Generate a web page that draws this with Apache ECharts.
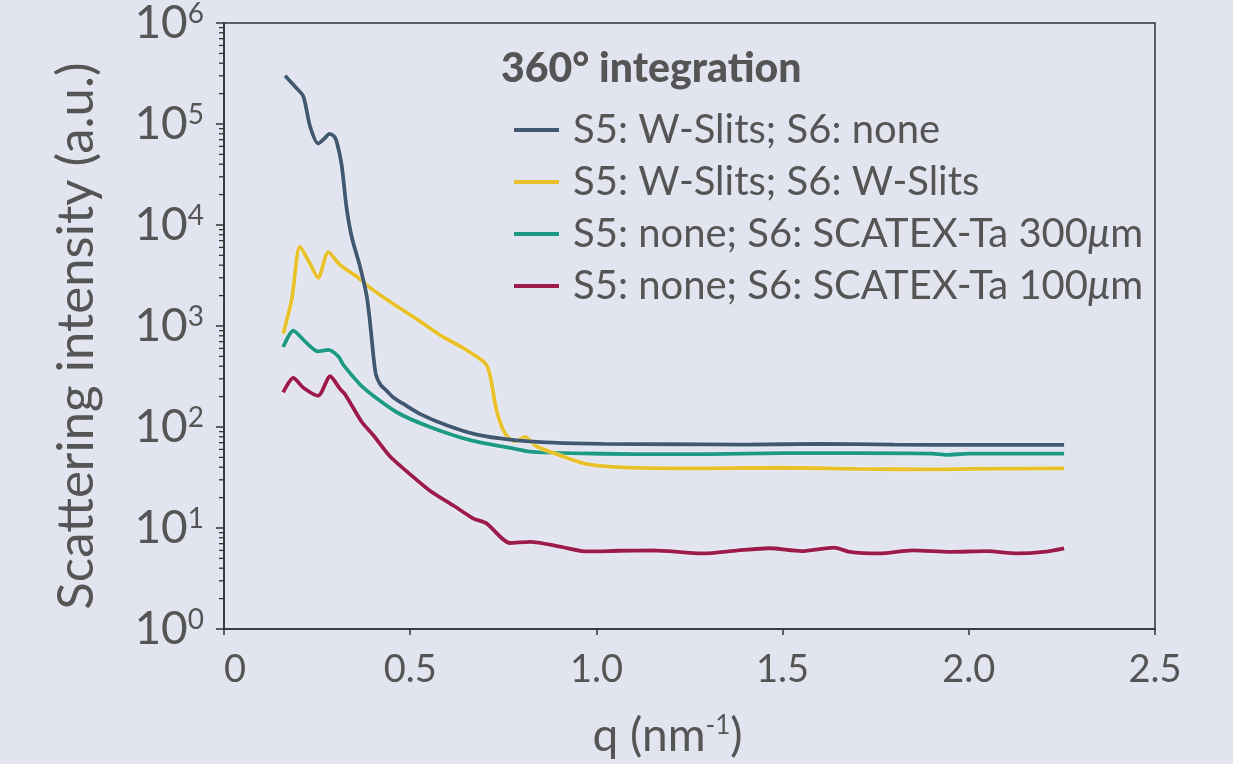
<!DOCTYPE html>
<html>
<head>
<meta charset="utf-8">
<script src="https://cdn.jsdelivr.net/npm/echarts@6/dist/echarts.min.js"></script>
<style>
html,body{margin:0;padding:0;background:#e2e5f0;}
#c{width:1233px;height:764px;}
</style>
</head>
<body>
<div id="c"></div>
<script>
// ---- data (q in nm^-1, intensity in a.u.) ----
const seriesNames = [
  'S5: W-Slits; S6: none',
  'S5: W-Slits; S6: W-Slits',
  'S5: none; S6: SCATEX-Ta 300\u03bcm',
  'S5: none; S6: SCATEX-Ta 100\u03bcm'
];
const qNavy = [0.164,0.19,0.213,0.231,0.253,0.27,0.283,0.295,0.303,0.316,0.329,0.343,0.365,0.383,0.392,0.401,0.408,0.42,0.437,0.455,0.481,0.526,0.598,0.679,0.768,0.884,1.019,1.2,1.4,1.6,1.8,2.0,2.256];
const iNavy = [300000,236000,188000,95000,64000,72000,80000,76000,66000,39000,14900,7600,3900,2000,1100,513,330,263,228,196,170,135,104,84,75,70,68,67.5,67,68,67,66.5,66.5];

const qYellow = [0.159,0.182,0.204,0.23,0.253,0.28,0.311,0.356,0.392,0.455,0.517,0.58,0.643,0.701,0.714,0.732,0.755,0.781,0.795,0.808,0.825,0.84,0.911,0.974,1.108,1.3,1.5,1.7,1.9,2.0,2.256];
const iYellow = [840,1840,6100,4200,3000,5400,4040,3100,2390,1650,1175,813,603,430,330,146,86,72,76,80,72,64,51,43,39.4,39,39.5,38.5,38,38.5,39];

const qTeal = [0.159,0.186,0.218,0.253,0.28,0.307,0.32,0.374,0.464,0.553,0.661,0.768,0.822,0.929,1.1,1.3,1.5,1.7,1.9,1.94,2.0,2.256];
const iTeal = [620,900,700,560,580,500,414,245,140,100,74,62,57,55,54,54,55,55,54.5,53,54.5,54.5];

const qCrimson = [0.159,0.186,0.213,0.253,0.285,0.311,0.325,0.37,0.401,0.446,0.5,0.553,0.616,0.67,0.705,0.768,0.822,0.902,0.974,1.063,1.15,1.286,1.38,1.465,1.55,1.638,1.68,1.76,1.85,1.95,2.05,2.13,2.2,2.256];
const iCrimson = [220,307,245,204,318,240,211,112,83,51,34,23.4,16.7,12.4,11.1,7.1,7.3,6.55,5.86,5.95,6.0,5.6,6.0,6.3,5.9,6.4,5.8,5.6,6.0,5.8,5.9,5.6,5.8,6.3];

const xTicks = [0,0.5,1.0,1.5,2.0,2.5];
const yMinorTicks = [];
for (let e = 0; e < 6; e++) for (let m = 2; m <= 9; m++) yMinorTicks.push(m * Math.pow(10, e));

const colors = ['#405872','#e8c12b','#1d9a83','#9d1b4b'];
const font = 'Lato';
const textColor = '#555555';

function zip(a, b){ return a.map((v,i)=>[v,b[i]]); }
const datasets = [zip(qNavy,iNavy), zip(qYellow,iYellow), zip(qTeal,iTeal), zip(qCrimson,iCrimson)];

const chart = echarts.init(document.getElementById('c'), null, {renderer:'canvas'});
const lineSeries = datasets.map((d,i)=>({
  name: seriesNames[i],
  type: 'line',
  data: d,
  symbol: 'none',
  smooth: 0.25,
  z: 10 - i,
  lineStyle: {color: colors[i], width: 3.8, shadowColor: 'rgba(255,255,255,0.7)', shadowBlur: 2},
  itemStyle: {color: colors[i]}
}));

const minorTickSeries = {
  type: 'custom',
  silent: true,
  clip: false,
  data: yMinorTicks.map(v=>[0,v]),
  renderItem: function(params, api){
    const p = api.coord([0, api.value(1)]);
    return {type:'line', shape:{x1:p[0]-5, y1:p[1], x2:p[0], y2:p[1]}, style:{stroke:'#333', lineWidth:1.3}};
  },
  z: 20
};

chart.setOption({
  backgroundColor: '#e2e5f0',
  animation: false,
  title: {
    text: '360\u00b0 integration',
    left: 496, top: 43,
    textStyle: {fontFamily: font, fontWeight: 900, fontSize: 41, color: textColor}
  },
  legend: {
    orient: 'vertical',
    left: 509, top: 105,
    icon: 'rect',
    itemWidth: 45, itemHeight: 4,
    itemGap: 12,
    data: seriesNames,
    formatter: name => name.replace('\u03bcm', '{i|\u03bc}m'),
    textStyle: {fontFamily: font, fontSize: 40, color: textColor, padding: [0,0,0,9], lineHeight: 40,
      rich: {i: {fontFamily: font, fontSize: 40, fontStyle: 'italic', color: textColor, lineHeight: 40}}}
  },
  grid: {left: 224, right: 78, top: 22, bottom: 125, show: true, borderColor: '#333', borderWidth: 1.5, backgroundColor: 'transparent'},
  xAxis: {
    type: 'value', min: 0, max: 2.5, interval: 0.5,
    name: '{a|q (nm}{s|-1}{a|)}',
    nameLocation: 'middle', nameGap: 84,
    nameTextStyle: {padding: [0,44,0,0], rich: {
      a: {fontFamily: font, fontSize: 46, color: textColor, lineHeight: 46},
      s: {fontFamily: font, fontSize: 26, color: textColor, verticalAlign: 'top', lineHeight: 26}
    }},
    axisLine: {lineStyle: {color: '#333', width: 1.5}},
    axisTick: {show: true, length: 6, lineStyle: {color: '#333', width: 1.5}},
    axisLabel: {
      fontFamily: font, fontSize: 38, color: textColor, margin: 22,
      alignMinLabel: 'left',
      formatter: v => v === 0 ? '0' : v.toFixed(1)
    },
    splitLine: {show: false}
  },
  yAxis: {
    type: 'log', logBase: 10, min: 1, max: 1e6,
    name: 'Scattering intensity (a.u.)',
    nameLocation: 'middle', nameGap: 122, nameRotate: 90,
    nameTextStyle: {fontFamily: font, fontSize: 51, color: textColor, padding: [0,20,0,0]},
    axisLine: {lineStyle: {color: '#333', width: 1.5}},
    axisTick: {show: true, length: 8, lineStyle: {color: '#333', width: 1.5}},
    axisLabel: {
      margin: 20,
      formatter: v => '{b|10}{s|' + Math.round(Math.log10(v)) + '}',
      rich: {
        b: {fontFamily: font, fontSize: 46, color: textColor, lineHeight: 46},
        s: {fontFamily: font, fontSize: 28, color: textColor, verticalAlign: 'top', lineHeight: 28}
      }
    },
    splitLine: {show: false},
    minorTick: {show: false}
  },
  series: lineSeries.concat([minorTickSeries])
});
</script>
</body>
</html>
